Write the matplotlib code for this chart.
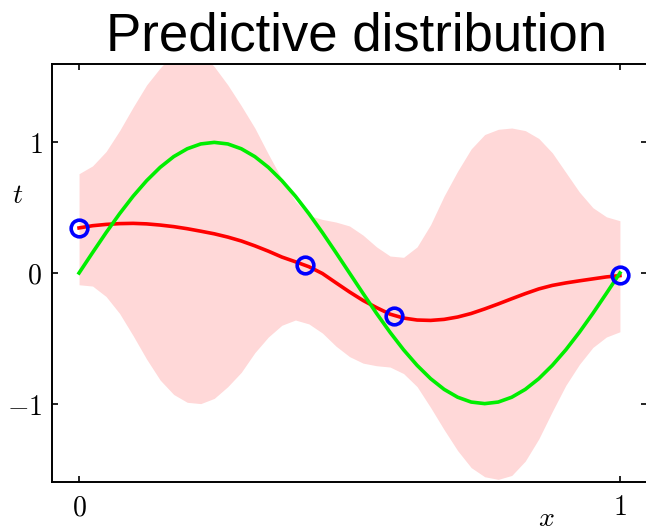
#importing library
import matplotlib
matplotlib.use("Agg")
import matplotlib.pyplot as plt

plt.rcParams['mathtext.fontset'] = 'cm'

#observed data points
pts_x = [0.0, 0.417, 0.583, 1.0]
pts_y = [0.345, 0.062, -0.33, -0.015]

grid_x = [0.0, 0.025, 0.05, 0.075, 0.1, 0.125, 0.15, 0.175, 0.2, 0.225,
          0.25, 0.275, 0.3, 0.325, 0.35, 0.375, 0.4, 0.425, 0.45, 0.475,
          0.5, 0.525, 0.55, 0.575, 0.6, 0.625, 0.65, 0.675, 0.7, 0.725,
          0.75, 0.775, 0.8, 0.825, 0.85, 0.875, 0.9, 0.925, 0.95, 0.975, 1.0]

#true curve (green)
true_y = [0.0, 0.156, 0.309, 0.454, 0.588, 0.707, 0.809, 0.891, 0.951, 0.988,
          1.0, 0.988, 0.951, 0.891, 0.809, 0.707, 0.588, 0.454, 0.309, 0.156,
          0.0, -0.156, -0.309, -0.454, -0.588, -0.707, -0.809, -0.891, -0.951, -0.988,
          -1.0, -0.988, -0.951, -0.891, -0.809, -0.707, -0.588, -0.454, -0.309, -0.156, 0.0]

#predictive mean (red)
mean_y = [0.345, 0.362, 0.372, 0.378, 0.380, 0.376, 0.367, 0.355, 0.339, 0.320,
          0.300, 0.275, 0.245, 0.208, 0.167, 0.122, 0.086, 0.048, -0.004, -0.075,
          -0.145, -0.21, -0.265, -0.315, -0.345, -0.360, -0.363, -0.355, -0.337, -0.31,
          -0.275, -0.237, -0.197, -0.158, -0.122, -0.095, -0.076, -0.06, -0.045, -0.03, -0.02]

#upper edge of the shaded band
upper_y = [0.76, 0.82, 0.93, 1.09, 1.27, 1.44, 1.57, 1.68, 1.73, 1.69,
           1.58, 1.44, 1.28, 1.11, 0.91, 0.72, 0.55, 0.44, 0.41, 0.39,
           0.36, 0.29, 0.20, 0.13, 0.12, 0.20, 0.37, 0.59, 0.78, 0.95,
           1.06, 1.10, 1.11, 1.09, 1.03, 0.92, 0.77, 0.62, 0.50, 0.43, 0.40]

#lower edge of the shaded band
lower_y = [-0.09, -0.10, -0.18, -0.31, -0.48, -0.66, -0.82, -0.93, -0.99, -1.00,
           -0.96, -0.87, -0.76, -0.61, -0.49, -0.40, -0.36, -0.39, -0.46, -0.56,
           -0.64, -0.69, -0.71, -0.72, -0.77, -0.87, -1.03, -1.20, -1.36, -1.49,
           -1.56, -1.58, -1.55, -1.44, -1.27, -1.06, -0.86, -0.70, -0.57, -0.49, -0.45]

fig = plt.figure(figsize=(6.46, 5.32), dpi=100)
ax = fig.add_axes([0.0805, 0.094, 0.921, 0.7857])

#shaded band
ax.fill_between(grid_x, lower_y, upper_y, color='#ffd8d8', lw=0, zorder=1)

#curves and points
ax.plot(grid_x, mean_y, color='#ff0000', lw=2.6, zorder=2)
ax.plot(grid_x, true_y, color='#00ee00', lw=2.6, zorder=3)
ax.plot(pts_x, pts_y, 'o', mfc='none', mec='#0000ff', ms=12, mew=2.6, zorder=4)

ax.set_xlim(-0.05, 1.05)
ax.set_ylim(-1.6, 1.6)

ax.set_xticks([0, 1])
ax.set_xticklabels(['$0$', '$1$'], fontsize=20)
ax.set_yticks([-1, 0, 1])
ax.set_yticklabels(['$-1$', '$0$', '$1$'], fontsize=20)
ax.tick_params(direction='in', length=4, width=1.2, top=True, right=True)
ax.tick_params(axis='x', pad=8)
ax.tick_params(axis='y', pad=7)

for s in ax.spines.values():
    s.set_linewidth(1.4)

ax.set_xlabel('$x$', fontsize=20, va='center')
ax.xaxis.set_label_coords(0.83, -0.087)
ax.set_ylabel('$t$', fontsize=20, rotation=0, va='center', ha='center')
ax.yaxis.set_label_coords(-0.057, 0.687)

ax.set_title('Predictive distribution', fontsize=38, family='Liberation Sans',
             pad=10, x=0.512)

fig.savefig('out.png', dpi=100)
